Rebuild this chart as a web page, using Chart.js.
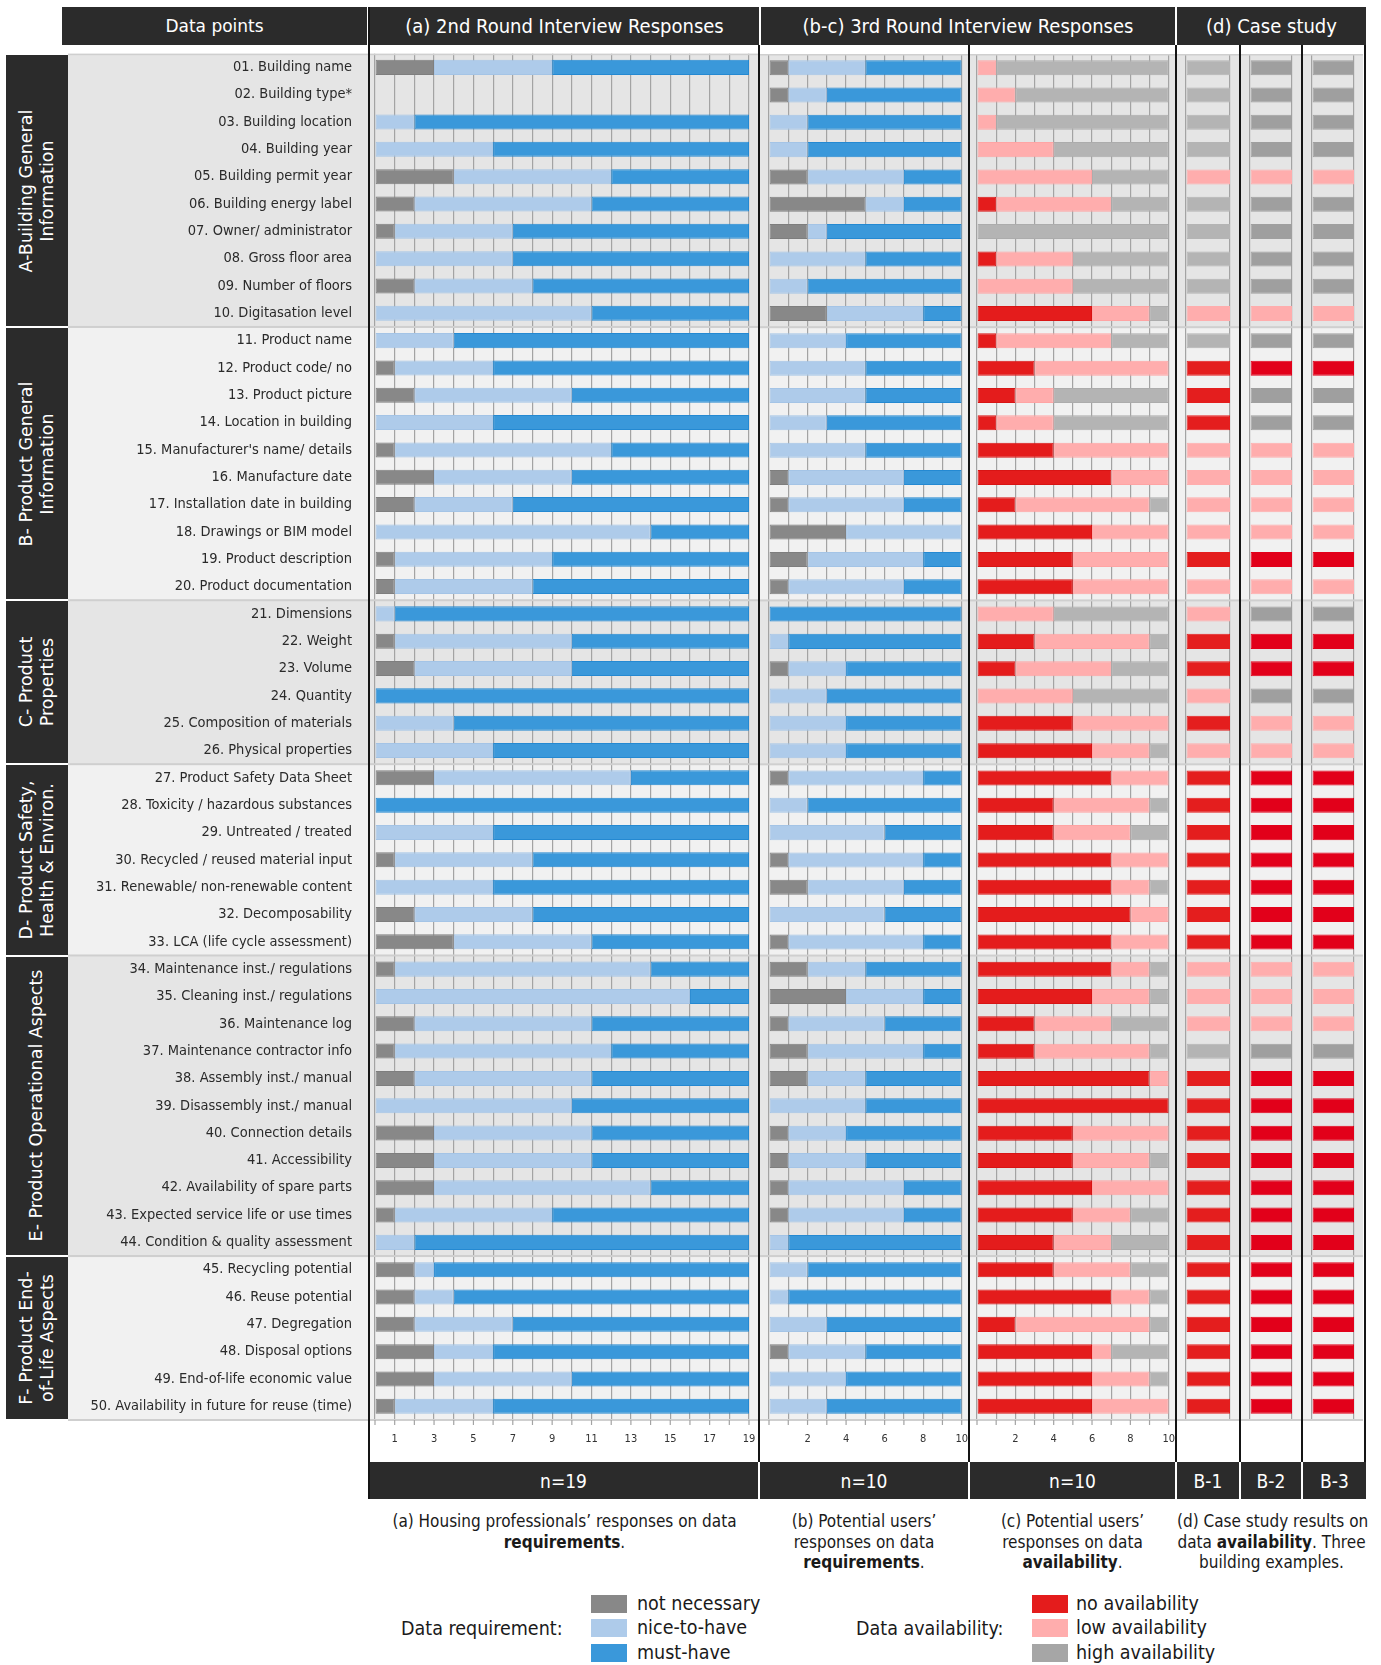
<!DOCTYPE html>
<html>
<head>
<meta charset="utf-8">
<script src="https://cdn.jsdelivr.net/npm/chart.js@4.4.0/dist/chart.umd.min.js"></script>
<style>
  body { margin: 0; background: #fff; font-family: 'DejaVu Sans Condensed', 'DejaVu Sans', sans-serif; }
  #page { position: relative; width: 1381px; height: 1665px; overflow: hidden; }
  .dark { position: absolute; background: #2b2b2b; color: #fff; display: flex; align-items: center; justify-content: center; white-space: nowrap; }
  .head { top: 7px; height: 38px; font-size: 20px; }
  .nbar { top: 1462px; height: 37px; font-size: 19px; }
  .vline { position: absolute; width: 2px; background: #151515; z-index: 5; }
  .gbox span { transform: rotate(-90deg); font-family: 'DejaVu Sans', sans-serif; font-size: 17.5px; line-height: 21px; text-align: center; }
  canvas { position: absolute; }
  .cap { position: absolute; top: 1511px; text-align: center; font-size: 17px; line-height: 20.5px; color: #1a1a1a; white-space: nowrap; }
  .leg { position: absolute; font-size: 19.5px; color: #1a1a1a; white-space: nowrap; }
  .sw { position: absolute; width: 36px; height: 18px; }
</style>
</head>
<body>
<div id="page">
  <div class="dark head" style="left:62px;width:305px;font-family:'DejaVu Sans',sans-serif;font-size:17px;">Data points</div>
  <div class="dark head" style="left:370px;width:389px;">(a) 2nd Round Interview Responses</div>
  <div class="dark head" style="left:761px;width:414px;">(b-c) 3rd Round Interview Responses</div>
  <div class="dark head" style="left:1177px;width:189px;">(d) Case study</div>

  <canvas id="chartA" width="691" height="1408" style="left:68px;top:53px;"></canvas>
  <canvas id="chartB" width="208" height="1408" style="left:760px;top:53px;"></canvas>
  <canvas id="chartC" width="205" height="1408" style="left:970px;top:53px;"></canvas>
  <canvas id="chartD1" width="62" height="1408" style="left:1177px;top:53px;"></canvas>
  <canvas id="chartD2" width="60" height="1408" style="left:1241px;top:53px;"></canvas>
  <canvas id="chartD3" width="60" height="1408" style="left:1303px;top:53px;"></canvas>

  <div class="vline" style="left:368px;top:7px;height:1492px;"></div>
  <div class="vline" style="left:758px;top:45px;height:1417px;"></div>
  <div class="vline" style="left:968px;top:45px;height:1417px;"></div>
  <div class="vline" style="left:1175px;top:45px;height:1417px;"></div>
  <div class="vline" style="left:1239px;top:45px;height:1417px;"></div>
  <div class="vline" style="left:1301px;top:45px;height:1417px;"></div>
  <div class="vline" style="left:1364px;top:45px;height:1417px;"></div>

  <div class="dark nbar" style="left:369px;width:389px;">n=19</div>
  <div class="dark nbar" style="left:760px;width:208px;">n=10</div>
  <div class="dark nbar" style="left:970px;width:205px;">n=10</div>
  <div class="dark nbar" style="left:1177px;width:62px;">B-1</div>
  <div class="dark nbar" style="left:1241px;width:60px;">B-2</div>
  <div class="dark nbar" style="left:1303px;width:63px;">B-3</div>

  <div class="cap" style="left:370px;width:389px;">(a) Housing professionals’ responses on data<br><b>requirements</b>.</div>
  <div class="cap" style="left:760px;width:208px;">(b) Potential users’<br>responses on data<br><b>requirements</b>.</div>
  <div class="cap" style="left:970px;width:205px;">(c) Potential users’<br>responses on data<br><b>availability</b>.</div>
  <div class="cap" style="left:1177px;width:189px;">(d) Case study results on<br>data <b>availability</b>. Three<br>building examples.</div>

  <div class="leg" style="left:401px;top:1617px;">Data requirement:</div>
  <div class="sw" style="left:591px;top:1595px;background:#888888;"></div>
  <div class="sw" style="left:591px;top:1619px;background:#aecbea;"></div>
  <div class="sw" style="left:591px;top:1644px;background:#3a98da;"></div>
  <div class="leg" style="left:637px;top:1592px;">not necessary</div>
  <div class="leg" style="left:637px;top:1616px;">nice-to-have</div>
  <div class="leg" style="left:637px;top:1641px;">must-have</div>

  <div class="leg" style="left:856px;top:1617px;">Data availability:</div>
  <div class="sw" style="left:1032px;top:1595px;background:#e41c1c;"></div>
  <div class="sw" style="left:1032px;top:1619px;background:#ffadad;"></div>
  <div class="sw" style="left:1032px;top:1644px;background:#a6a6a6;"></div>
  <div class="leg" style="left:1076px;top:1592px;">no availability</div>
  <div class="leg" style="left:1076px;top:1616px;">low availability</div>
  <div class="leg" style="left:1076px;top:1641px;">high availability</div>
</div>

<script>
const rowLabels = [
  '01. Building name', '02. Building type*', '03. Building location', '04. Building year',
  '05. Building permit year', '06. Building energy label', '07. Owner/ administrator',
  '08. Gross floor area', '09. Number of floors', '10. Digitasation level',
  '11. Product name', '12. Product code/ no', '13. Product picture', '14. Location in building',
  "15. Manufacturer's name/ details", '16. Manufacture date', '17. Installation date in building',
  '18. Drawings or BIM model', '19. Product description', '20. Product documentation',
  '21. Dimensions', '22. Weight', '23. Volume', '24. Quantity', '25. Composition of materials',
  '26. Physical properties',
  '27. Product Safety Data Sheet', '28. Toxicity / hazardous substances', '29. Untreated / treated',
  '30. Recycled / reused material input', '31. Renewable/ non-renewable content',
  '32. Decomposability', '33. LCA (life cycle assessment)',
  '34. Maintenance inst./ regulations', '35. Cleaning inst./ regulations', '36. Maintenance log',
  '37. Maintenance contractor info', '38. Assembly inst./ manual', '39. Disassembly inst./ manual',
  '40. Connection details', '41. Accessibility', '42. Availability of spare parts',
  '43. Expected service life or use times', '44. Condition & quality assessment',
  '45. Recycling potential', '46. Reuse potential', '47. Degregation', '48. Disposal options',
  '49. End-of-life economic value', '50. Availability in future for reuse (time)'
];

// group name lines and number of rows in each group
const groupNames = [
  ['A-Building General', 'Information'],
  ['B- Product General', 'Information'],
  ['C- Product', 'Properties'],
  ['D- Product Safety,', 'Health & Environ.'],
  ['E- Product Operational Aspects'],
  ['F- Product End-', 'of-Life Aspects']
];
const groupSizes = [10, 10, 6, 7, 11, 6];

// (a) 2nd round, n=19 (row 02 not asked)
const reqA_not  = [3, null, 0, 0, 4, 2, 1, 0, 2, 0,  0, 1, 2, 0, 1, 3, 2, 0, 1, 1,  0, 1, 2, 0, 0, 0, 3, 0, 0, 1,  0, 2, 4, 1, 0, 2, 1, 2, 0, 3,  3, 3, 1, 0, 2, 2, 2, 3, 3, 1];
const reqA_nice = [6, null, 2, 6, 8, 9, 6, 7, 6, 11,  4, 5, 8, 6, 11, 7, 5, 14, 8, 7,  1, 9, 8, 0, 4, 6, 10, 0, 6, 7,  6, 6, 7, 13, 16, 9, 11, 9, 10, 8,  8, 11, 8, 2, 1, 2, 5, 3, 7, 5];
const reqA_must = [10, null, 17, 13, 7, 8, 12, 12, 11, 8,  15, 13, 9, 13, 7, 9, 12, 5, 10, 11,  18, 9, 9, 19, 15, 13, 6, 19, 13, 11,  13, 11, 8, 5, 3, 8, 7, 8, 9, 8,  8, 5, 10, 17, 16, 15, 12, 13, 9, 13];

// (b) 3rd round requirements, n=10
const reqB_not  = [1, 1, 0, 0, 2, 5, 2, 0, 0, 3,  0, 0, 0, 0, 0, 1, 1, 4, 2, 1,  0, 0, 1, 0, 0, 0, 1, 0, 0, 1,  2, 0, 1, 2, 4, 1, 2, 2, 0, 1,  1, 1, 1, 0, 0, 0, 0, 1, 0, 0];
const reqB_nice = [4, 2, 2, 2, 5, 2, 1, 5, 2, 5,  4, 5, 5, 3, 5, 6, 6, 6, 6, 6,  0, 1, 3, 3, 4, 4, 7, 2, 6, 7,  5, 6, 7, 3, 4, 5, 6, 3, 5, 3,  4, 6, 6, 1, 2, 1, 3, 4, 4, 3];
const reqB_must = [5, 7, 8, 8, 3, 3, 7, 5, 8, 2,  6, 5, 5, 7, 5, 3, 3, 0, 2, 3,  10, 9, 6, 7, 6, 6, 2, 8, 4, 2,  3, 4, 2, 5, 2, 4, 2, 5, 5, 6,  5, 3, 3, 9, 8, 9, 7, 5, 6, 7];

// (c) 3rd round availability, n=10
const avC_no   = [0, 0, 0, 0, 0, 1, 0, 1, 0, 6,  1, 3, 2, 1, 4, 7, 2, 6, 5, 5,  0, 3, 2, 0, 5, 6, 7, 4, 4, 7,  7, 8, 7, 7, 6, 3, 3, 9, 10, 5,  5, 6, 5, 4, 4, 7, 2, 6, 6, 6];
const avC_low  = [1, 2, 1, 4, 6, 6, 0, 4, 5, 3,  6, 7, 2, 3, 6, 3, 7, 4, 5, 5,  4, 6, 5, 5, 5, 3, 3, 5, 4, 3,  2, 2, 3, 2, 3, 4, 6, 1, 0, 5,  4, 4, 3, 3, 4, 2, 7, 1, 3, 4];
const avC_high = [9, 8, 9, 6, 4, 3, 10, 5, 5, 1,  3, 0, 6, 6, 0, 0, 1, 0, 0, 0,  6, 1, 3, 5, 0, 1, 0, 1, 2, 0,  1, 0, 0, 1, 1, 3, 1, 0, 0, 0,  1, 0, 2, 3, 2, 1, 1, 3, 1, 0];

// (d) case study availability: n = no, l = low, h = high
const caseB1 = ['h','h','h','h','l','h','h','h','h','l',  'h','n','n','n','l','l','l','l','n','l',  'l','n','n','l','n','l','n','n','n','n',  'n','n','n','l','l','l','h','n','n','n',  'n','n','n','n','n','n','n','n','n','n'];
const caseB2 = ['h','h','h','h','l','h','h','h','h','l',  'h','n','h','h','l','l','l','l','n','l',  'h','n','n','h','l','l','n','n','n','n',  'n','n','n','l','l','l','h','n','n','n',  'n','n','n','n','n','n','n','n','n','n'];
const caseB3 = ['h','h','h','h','l','h','h','h','h','l',  'h','n','h','h','l','l','l','l','n','l',  'h','n','n','h','l','l','n','n','n','n',  'n','n','n','l','l','l','h','n','n','n',  'n','n','n','n','n','n','n','n','n','n'];

const xTicksA = [1, 3, 5, 7, 9, 11, 13, 15, 17, 19];
const xTicksBC = [2, 4, 6, 8, 10];

const FONT = "'DejaVu Sans Condensed', 'DejaVu Sans', sans-serif";
Chart.defaults.font.family = FONT;

const ROW_TOP = 54;      // top of first row on the page
const ROWS_H = 1366;     // height of the 50 rows

// left group boxes
const rowH = ROWS_H / rowLabels.length;
let start = 0;
groupNames.forEach((lines, i) => {
  const box = document.createElement('div');
  box.className = 'dark gbox';
  box.style.left = '6px';
  box.style.width = '62px';
  box.style.top = (ROW_TOP + start * rowH + 1) + 'px';
  box.style.height = (groupSizes[i] * rowH - 2) + 'px';
  box.innerHTML = '<span>' + lines.join('<br>') + '</span>';
  document.getElementById('page').appendChild(box);
  start += groupSizes[i];
});

// alternating group backgrounds and separators behind the bars, short tick marks under the rows
const bandsPlugin = {
  id: 'bands',
  beforeDraw(chart) {
    const { ctx, chartArea } = chart;
    const h = (chartArea.bottom - chartArea.top) / rowLabels.length;
    let s = 0;
    ctx.save();
    groupSizes.forEach((n, i) => {
      ctx.fillStyle = i % 2 ? '#f1f1f1' : '#e5e5e5';
      ctx.fillRect(0, chartArea.top + s * h, chart.width, n * h);
      s += n;
    });
    ctx.restore();
  },
  beforeDatasetsDraw(chart) {
    const { ctx, chartArea } = chart;
    const h = (chartArea.bottom - chartArea.top) / rowLabels.length;
    let s = 0;
    ctx.save();
    ctx.fillStyle = '#cfcfcf';
    ctx.fillRect(0, chartArea.top, chart.width, 1.5);
    groupSizes.forEach(n => {
      s += n;
      ctx.fillRect(0, chartArea.top + s * h - 1, chart.width, 2);
    });
    const x = chart.scales.x;
    if (x.options.ticks.display) {
      ctx.strokeStyle = '#a3a3a3';
      ctx.lineWidth = 1.2;
      x.ticks.forEach(t => {
        const px = x.getPixelForValue(t.value);
        ctx.beginPath();
        ctx.moveTo(px, chartArea.bottom);
        ctx.lineTo(px, chartArea.bottom + 5);
        ctx.stroke();
      });
    }
    ctx.restore();
  }
};

function bar(label, data, bg, border) {
  return {
    label: label,
    data: data,
    backgroundColor: bg,
    borderColor: border,
    borderWidth: ctx => (ctx.raw ? 1 : 0),
    borderSkipped: false,
    barPercentage: 0.55,
    categoryPercentage: 1
  };
}

// pageLeft/areaLeft/areaRight: where the canvas sits and where the plot area should go on the page
function makePanel(id, datasets, max, ticksShown, pageLeft, areaLeft, areaRight, showLabels) {
  const yAxis = {
    stacked: true,
    display: showLabels,
    grid: { display: false, drawTicks: false },
    border: { display: false },
    ticks: { padding: 23, color: '#2a2a2a', font: { size: 14.5 }, autoSkip: false }
  };
  if (showLabels) yAxis.afterFit = s => { s.width = 307; };

  const chart = new Chart(document.getElementById(id), {
    type: 'bar',
    data: { labels: rowLabels, datasets: datasets },
    options: {
      indexAxis: 'y',
      responsive: false,
      maintainAspectRatio: false,
      animation: false,
      layout: { padding: { left: 0, right: 0, top: 0, bottom: 0 } },
      plugins: { legend: { display: false }, tooltip: { enabled: false } },
      scales: {
        x: {
          stacked: true,
          min: 0,
          max: max,
          afterFit: s => { s.height = 42; },
          border: { display: true, color: '#b5b5b5' },
          grid: { color: '#a3a3a3', lineWidth: 1.2, tickLength: ticksShown ? 13 : 0, drawTicks: !!ticksShown, tickColor: 'rgba(0,0,0,0)' },
          ticks: {
            display: !!ticksShown,
            stepSize: 1,
            autoSkip: false,
            maxRotation: 0,
            padding: 0,
            color: '#333',
            font: { size: 11 },
            callback: v => (ticksShown && ticksShown.includes(v) ? String(v) : '')
          }
        },
        y: yAxis
      }
    },
    plugins: [bandsPlugin]
  });

  // line the plot area up with the page grid (a few passes, the layout reacts to the padding)
  const pad = chart.options.layout.padding;
  for (let i = 0; i < 3; i++) {
    const a = chart.chartArea;
    pad.left = Math.max(0, pad.left + areaLeft - (pageLeft + a.left));
    pad.right = Math.max(0, pad.right + (pageLeft + a.right) - areaRight);
    chart.update('none');
  }
  for (let i = 0; i < 2; i++) {
    const a = chart.chartArea;
    chart.resize(chart.width, Math.round(a.top + ROWS_H + chart.height - a.bottom));
    chart.update('none');
  }
  chart.canvas.style.top = (ROW_TOP - chart.chartArea.top) + 'px';
  return chart;
}

makePanel('chartA', [
  bar('not necessary', reqA_not, '#888888', '#7e7e7e'),
  bar('nice-to-have', reqA_nice, '#aecbea', '#a4c4e6'),
  bar('must-have', reqA_must, '#3a98da', '#2489d2')
], 19, xTicksA, 68, 375, 749, true);

makePanel('chartB', [
  bar('not necessary', reqB_not, '#888888', '#7e7e7e'),
  bar('nice-to-have', reqB_nice, '#aecbea', '#a4c4e6'),
  bar('must-have', reqB_must, '#3a98da', '#2489d2')
], 10, xTicksBC, 760, 769, 960, false);

makePanel('chartC', [
  bar('no availability', avC_no, '#e41c1c', '#d81414'),
  bar('low availability', avC_low, '#ffadad', '#ffa4a4'),
  bar('high availability', avC_high, '#b4b4b4', '#acacac')
], 10, xTicksBC, 970, 977, 1167, false);

function caseColors(codes, red, grey) {
  return codes.map(c => (c === 'n' ? red : c === 'l' ? '#ffadad' : grey));
}

[[ 'chartD1', caseB1, '#e41e1e', '#b4b4b4', 1177, 1186, 1230 ],
 [ 'chartD2', caseB2, '#e2001a', '#9f9f9f', 1241, 1250, 1292 ],
 [ 'chartD3', caseB3, '#e2001a', '#9f9f9f', 1303, 1312, 1354 ]].forEach(([id, codes, red, grey, left, a0, a1]) => {
  const colors = caseColors(codes, red, grey);
  const ds = bar('availability', codes.map(() => 1), colors, colors);
  makePanel(id, [ds], 1, null, left, a0, a1, false);
});
</script>
</body>
</html>
